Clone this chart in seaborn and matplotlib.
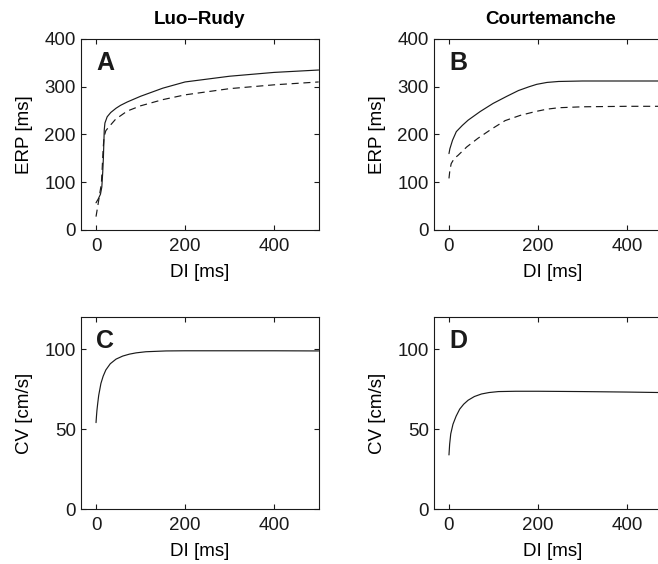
import numpy as np
import pandas as pd
import matplotlib
matplotlib.use("Agg")
import matplotlib.pyplot as plt
import matplotlib.transforms as mtransforms
import seaborn as sns

# ---- data ----
lr_erp_solid_x = [0, 5, 10, 13, 15, 16.5, 17.5, 18.5, 20, 25, 33, 45, 55, 70, 100, 150, 200, 300, 400, 500]
lr_erp_solid_y = [57, 65, 75, 90, 120, 150, 180, 210, 224, 237, 246, 255, 261, 268, 280, 297, 310, 322, 330, 335]
lr_erp_dash_x = [0, 3, 6, 9, 12, 14, 16, 18, 22, 29, 44, 70, 100, 150, 200, 300, 400, 500]
lr_erp_dash_y = [28, 45, 62, 80, 97, 132, 170, 195, 208, 216, 232, 249, 260, 273, 283, 296, 304, 310]

ct_erp_solid_x = [0, 2, 8, 16.5, 30, 43, 70, 99, 130, 156, 180, 197, 220, 246, 300, 400, 500]
ct_erp_solid_y = [160, 170, 188, 206, 219, 230, 248, 265, 280, 292, 300, 305, 309, 311, 312, 312, 312]
ct_erp_dash_x = [0, 2, 5, 12, 20, 40, 65, 95, 126, 160, 194, 220, 246, 300, 400, 500]
ct_erp_dash_y = [108, 125, 139, 150, 156, 174, 192, 211, 229, 240, 248, 253, 256, 258, 259, 259]

lr_cv_x = [0, 1, 2, 3.7, 6, 11, 16, 22, 32, 45, 60, 75, 90, 112, 157, 200, 300, 400, 500]
lr_cv_y = [54, 58, 61.5, 65.8, 71, 78.5, 83, 86.9, 90.8, 93.7, 95.6, 96.8, 97.6, 98.3, 98.8, 98.9, 98.9, 98.9, 98.8]

ct_cv_x = [0, 1.5, 4, 9, 16, 24, 33, 43, 57, 73, 90, 111, 150, 200, 300, 400, 500]
ct_cv_y = [33.8, 40.5, 47, 53, 58, 62.4, 65.5, 68, 70.3, 71.9, 72.8, 73.4, 73.6, 73.6, 73.4, 73.1, 72.7]

titles = ["Luo\u2013Rudy", "Courtemanche"]
letters = ["A", "B", "C", "D"]
erp_ticks = [0, 100, 200, 300, 400]
cv_ticks = [0, 50, 100]
di_ticks = [0, 200, 400]

sns.set_theme(style="ticks")
plt.rcParams["font.family"] = ["Liberation Sans", "DejaVu Sans"]
plt.rcParams["axes.linewidth"] = 0.8
plt.rcParams["text.color"] = "black"
plt.rcParams["axes.labelcolor"] = "black"
plt.rcParams["xtick.color"] = "black"
plt.rcParams["ytick.color"] = "black"
plt.rcParams["axes.edgecolor"] = "black"

fig = plt.figure(figsize=(6.58, 5.64), dpi=100)
W = 0.3607
H = 0.3387
axA = fig.add_axes([0.1236, 0.5922, W, H])
axB = fig.add_axes([0.660, 0.5922, W, H])
axC = fig.add_axes([0.1236, 0.0975, W, 0.3404])
axD = fig.add_axes([0.660, 0.0975, W, 0.3404])
axes = [axA, axB, axC, axD]

lw = 0.85
dash = (0, (6, 4))
sns.lineplot(x=lr_erp_solid_x, y=lr_erp_solid_y, ax=axA, color="k", lw=lw)
sns.lineplot(x=lr_erp_dash_x, y=lr_erp_dash_y, ax=axA, color="k", lw=lw, linestyle=dash)
sns.lineplot(x=ct_erp_solid_x, y=ct_erp_solid_y, ax=axB, color="k", lw=lw)
sns.lineplot(x=ct_erp_dash_x, y=ct_erp_dash_y, ax=axB, color="k", lw=lw, linestyle=dash)
sns.lineplot(x=lr_cv_x, y=lr_cv_y, ax=axC, color="k", lw=lw)
sns.lineplot(x=ct_cv_x, y=ct_cv_y, ax=axD, color="k", lw=lw)

fs = 13.5
for i, ax in enumerate(axes):
    ax.set_xlim(-33, 500)
    ax.set_xticks(di_ticks)
    ax.set_xticklabels([str(t) for t in di_ticks])
    if i < 2:
        ax.set_ylim(0, 400)
        ax.set_yticks(erp_ticks)
        ax.set_yticklabels([str(t) for t in erp_ticks])
        ax.set_ylabel("ERP [ms]", fontsize=fs, labelpad=8)
    else:
        ax.set_ylim(0, 120)
        ax.set_yticks(cv_ticks)
        ax.set_yticklabels([str(t) for t in cv_ticks])
        ax.set_ylabel("CV [cm/s]", fontsize=fs, labelpad=8)
    ax.set_xlabel("DI [ms]", fontsize=fs, labelpad=6)
    ax.tick_params(axis="both", direction="in", length=3.5, width=0.8,
                   labelsize=fs, top=True, right=True, color="k", labelcolor="k")
    ax.tick_params(axis="x", pad=6)
    ax.tick_params(axis="y", pad=4)
    for s in ax.spines.values():
        s.set_visible(True)
        s.set_color("k")
        s.set_linewidth(0.8)
    trans = mtransforms.blended_transform_factory(ax.transData, ax.transAxes)
    ax.text(0, 0.84, letters[i], transform=trans, fontsize=18, fontweight="bold",
            ha="left", va="baseline", color="k")

axA.set_title(titles[0], fontsize=fs, fontweight="bold", pad=11)
axB.set_title(titles[1], fontsize=fs, fontweight="bold", pad=11, x=0.49)

fig.savefig("out.png", dpi=100)
